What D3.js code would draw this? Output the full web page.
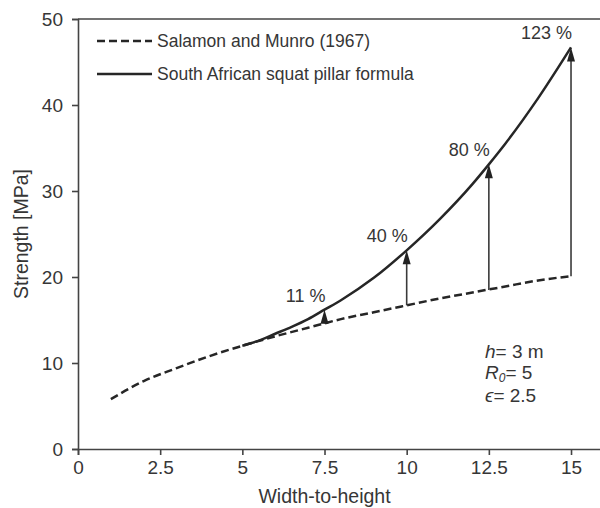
<!DOCTYPE html>
<html>
<head>
<meta charset="utf-8">
<script src="https://cdn.jsdelivr.net/npm/d3@7"></script>
<style>
  html, body { margin: 0; padding: 0; background: #fff; }
  svg { display: block; font-family: Arial, "Liberation Sans", sans-serif; }
</style>
</head>
<body>
<svg id="chart" width="600" height="508"></svg>
<script>
// Pillar strength vs width-to-height ratio (h = 3 m)
const smRatio    = [1, 2, 3, 4, 5, 6, 7, 8, 9, 10, 11, 12, 13, 14, 15];
const smStrength = [5.8, 7.9, 9.4, 10.8, 12.0, 13.1, 14.1, 15.1, 15.9, 16.7, 17.5, 18.2, 18.9, 19.6, 20.1];

const squatRatio    = [5, 5.5, 6, 6.5, 7, 7.5, 8, 9, 10, 11, 12, 12.5, 13, 14, 15];
const squatStrength = [12.0, 12.6, 13.4, 14.2, 15.1, 16.2, 17.3, 19.9, 23.1, 26.7, 30.8, 33.1, 35.5, 40.8, 46.7];

// Increase of the squat formula over Salamon and Munro
const arrowRatio = [7.5, 10, 12.5, 15];
const arrowFrom  = [14.6, 16.7, 18.5, 20.1];
const arrowTo    = [16.2, 23.1, 33.1, 46.7];
const arrowLabel = ["11 %", "40 %", "80 %", "123 %"];

const xTicks = [0, 2.5, 5, 7.5, 10, 12.5, 15];
const yTicks = [0, 10, 20, 30, 40, 50];

const legendLabels = ["Salamon and Munro (1967)", "South African squat pillar formula"];

const ink = "#262626", axisInk = "#444", textInk = "#363636";
const svg = d3.select("#chart");

const x = d3.scaleLinear().domain([0, 15.9]).range([78, 600.6]);
const y = d3.scaleLinear().domain([0, 50]).range([449, 19]);

// axes
const xAxis = svg.append("g").attr("transform", `translate(0,${y(0)})`)
  .call(d3.axisBottom(x).tickValues(xTicks).tickSizeOuter(0).tickSize(6).tickPadding(5)
    .tickFormat(d => String(d)));
const yAxis = svg.append("g").attr("transform", `translate(${x(0)},0)`)
  .call(d3.axisLeft(y).tickValues(yTicks).tickSizeOuter(0).tickSize(6).tickPadding(9));
[xAxis, yAxis].forEach(g => {
  g.selectAll("path, line").attr("stroke", axisInk).attr("stroke-width", 1.6);
  g.selectAll("text").attr("fill", textInk).style("font-size", "19px");
});
xAxis.selectAll("text").attr("dy", "0.72em");

// top frame line
svg.append("line").attr("x1", x(0)).attr("x2", 600).attr("y1", y(50)).attr("y2", y(50))
  .attr("stroke", axisInk).attr("stroke-width", 1.6);

// axis titles
svg.append("text").attr("x", x(7.5)).attr("y", 503).attr("text-anchor", "middle")
  .attr("fill", textInk).style("font-size", "19.5px").text("Width-to-height");
svg.append("text").attr("transform", `translate(28,${(y(0) + y(50)) / 2}) rotate(-90)`)
  .attr("text-anchor", "middle").attr("fill", textInk).style("font-size", "19.5px")
  .text("Strength [MPa]");

// curves
const line = d3.line().x(d => x(d[0])).y(d => y(d[1])).curve(d3.curveMonotoneX);
svg.append("path").datum(d3.zip(smRatio, smStrength)).attr("d", line)
  .attr("fill", "none").attr("stroke", ink).attr("stroke-width", 2.5)
  .attr("stroke-dasharray", "8,4");
svg.append("path").datum(d3.zip(squatRatio, squatStrength)).attr("d", line)
  .attr("fill", "none").attr("stroke", ink).attr("stroke-width", 2.5);

// arrows with percentage labels
const headLen = 14, headHalf = 4;
arrowRatio.forEach((r, i) => {
  const ax = x(r), y0 = y(arrowFrom[i]), y1 = y(arrowTo[i]);
  svg.append("line").attr("x1", ax).attr("x2", ax).attr("y1", y0).attr("y2", y1 + headLen - 1)
    .attr("stroke", "#3a3a3a").attr("stroke-width", 1.6);
  svg.append("path")
    .attr("d", `M${ax},${y1} L${ax - headHalf},${y1 + headLen} L${ax + headHalf},${y1 + headLen} Z`)
    .attr("fill", "#222");
  svg.append("text").attr("x", ax + 1).attr("y", y1 - 8).attr("text-anchor", "end")
    .attr("fill", textInk).style("font-size", "18px").text(arrowLabel[i]);
});

// legend
const legend = svg.append("g");
legendLabels.forEach((lab, i) => {
  const ly = 41 + i * 33;
  legend.append("line").attr("x1", 97).attr("x2", 152).attr("y1", ly).attr("y2", ly)
    .attr("stroke", ink).attr("stroke-width", 2.5)
    .attr("stroke-dasharray", i === 0 ? "8,4" : null);
  legend.append("text").attr("x", 157).attr("y", ly + 6).attr("fill", textInk)
    .style("font-size", "17.5px").text(lab);
});

// parameters
const params = svg.append("g").attr("fill", textInk).style("font-size", "19px");
const t1 = params.append("text").attr("x", 485).attr("y", 358);
t1.append("tspan").style("font-style", "italic").text("h");
t1.append("tspan").text("= 3 m");
const t2 = params.append("text").attr("x", 485).attr("y", 379);
t2.append("tspan").style("font-style", "italic").text("R");
t2.append("tspan").style("font-style", "italic").style("font-size", "12px").attr("dy", 3).text("0");
t2.append("tspan").attr("dy", -3).text("= 5");
const t3 = params.append("text").attr("x", 485).attr("y", 402);
t3.append("tspan").style("font-style", "italic").text("\u03F5");
t3.append("tspan").text("= 2.5");
</script>
</body>
</html>
